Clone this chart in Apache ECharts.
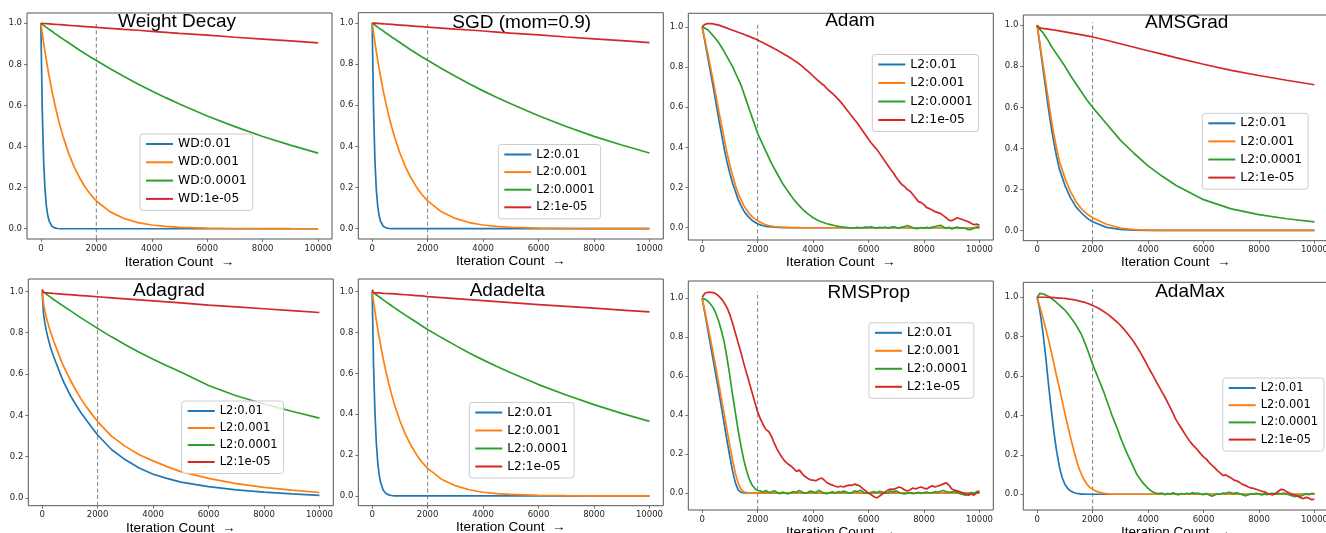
<!DOCTYPE html>
<html>
<head>
<meta charset="utf-8">
<script src="https://cdn.jsdelivr.net/npm/echarts@6/dist/echarts.min.js"></script>
<style>
html,body{margin:0;padding:0;background:#fff;}
#c{width:1326px;height:533px;}
</style>
</head>
<body>
<div id="c"></div>
<script>
// ---------------- data ----------------
const titles = ['Weight Decay','SGD (mom=0.9)','Adam','AMSGrad','Adagrad','Adadelta','RMSProp','AdaMax'];
const wdNames = ['WD:0.01','WD:0.001','WD:0.0001','WD:1e-05'];
const l2Names = ['L2:0.01','L2:0.001','L2:0.0001','L2:1e-05'];
const xTicks = [0,2000,4000,6000,8000,10000];
const yTicks = [0,0.2,0.4,0.6,0.8,1.0];
const xAxisTitle = 'Iteration Count  \u2192';
const markerX = 2000;
const vlineTop = [1.0,1.0,1.016,1.016,1.013,1.0,1.034,1.04];
const yMin = [-0.05,-0.05,-0.061,-0.05,-0.037,-0.048,-0.088,-0.08];
const yMax = [1.05,1.05,1.067,1.05,1.06,1.062,1.088,1.076];

// sparse x grid (smooth curves)
const xA = [0,50,100,150,200,250,300,400,500,600,700,800,1000,1200,1400,1600,1800,2000,2500,3000,3500,4000,4500,5000,6000,7000,8000,9000,10000];
// dense x grid (noisy curves)
const xB = [0,100,200,300,400,500,600,700,800,900,
 1000,1100,1200,1300,1400,1500,1600,1700,1800,1900,
 2000,2100,2200,2300,2400,2500,2600,2700,2800,2900,
 3000,3100,3200,3300,3400,3500,3600,3700,3800,3900,
 4000,4100,4200,4300,4400,4500,4600,4700,4800,4900,
 5000,5100,5200,5300,5400,5500,5600,5700,5800,5900,
 6000,6100,6200,6300,6400,6500,6600,6700,6800,6900,
 7000,7100,7200,7300,7400,7500,7600,7700,7800,7900,
 8000,8100,8200,8300,8400,8500,8600,8700,8800,8900,
 9000,9100,9200,9300,9400,9500,9600,9700,9800,9900,10000];

// Weight Decay (xA)
const wd_b = [1.0,0.58,0.33,0.19,0.11,0.064,0.037,0.012,0.004,0.001,0,0,0,0,0,0,0,0,0,0,0,0,0,0,0,0,0,0,0];
const wd_o = [1.0,0.951,0.905,0.861,0.819,0.779,0.741,0.67,0.607,0.549,0.497,0.449,0.368,0.301,0.247,0.202,0.165,0.135,0.082,0.05,0.03,0.018,0.011,0.007,0.0025,0.001,0.0003,0.0001,0];
const wd_g = [1.0,0.995,0.99,0.985,0.98,0.975,0.97,0.961,0.951,0.942,0.932,0.923,0.905,0.887,0.869,0.852,0.835,0.819,0.779,0.741,0.705,0.67,0.638,0.607,0.549,0.497,0.449,0.407,0.368];
const wd_r = [1.0,1.0,0.999,0.9985,0.998,0.9975,0.997,0.996,0.995,0.994,0.993,0.992,0.99,0.988,0.986,0.984,0.982,0.98,0.975,0.97,0.966,0.961,0.956,0.951,0.942,0.932,0.923,0.914,0.905];

// SGD (xA)
const sgd_b = [1.0,0.58,0.33,0.19,0.11,0.064,0.037,0.012,0.004,0.001,0,0,0,0,0,0,0,0,0,0,0,0,0,0,0,0,0,0,0];
const sgd_o = [1.0,0.951,0.905,0.861,0.819,0.779,0.741,0.67,0.607,0.549,0.497,0.449,0.368,0.301,0.247,0.202,0.165,0.135,0.082,0.05,0.03,0.018,0.011,0.007,0.0025,0.001,0.0003,0.0001,0];
const sgd_g = [1.0,0.995,0.99,0.985,0.98,0.975,0.97,0.961,0.951,0.942,0.932,0.923,0.905,0.887,0.869,0.852,0.835,0.819,0.779,0.741,0.705,0.67,0.638,0.607,0.549,0.497,0.449,0.407,0.368];
const sgd_r = [1.0,1.0,0.999,0.9985,0.998,0.9975,0.997,0.996,0.995,0.994,0.993,0.992,0.99,0.988,0.986,0.984,0.982,0.98,0.975,0.97,0.966,0.961,0.956,0.951,0.942,0.932,0.923,0.914,0.905];

// Adam (xB)
const adam_b = [1.0,0.925,0.85,0.775,0.7,0.62,0.54,0.465,0.39,0.325,
 0.27,0.22,0.18,0.14,0.11,0.085,0.065,0.05,0.037,0.027,
 0.02,0.014,0.01,0.007,0.005,0.004,0.003,0.002,0.0015,0.001,
 0.001,0,0,0,0,0,0,0,0,0, 0,0,0,0,0,0,0,0,0,0, 0,0,0,0,0,0,0,0,0,0,
 0,0,0,0,0,0,0,0,0,0, 0,0,0,0,0,0,0,0,0,0, 0,0,0,0,0,0,0,0,0,0,
 0,0,0,0,0,0,0,0,0,0, 0];
const adam_o = [1.0,0.935,0.87,0.8,0.73,0.655,0.58,0.51,0.44,0.37,
 0.31,0.26,0.21,0.17,0.14,0.11,0.09,0.07,0.055,0.044,
 0.035,0.027,0.02,0.015,0.011,0.008,0.006,0.0045,0.0035,0.0025,
 0.002,0.0015,0.001,0.001,0.0005,0.0005,0,0,0,0, 0,0,0,0,0,0,0,0,0,0,
 0,0,0,0,0,0,0,0,0,0, 0,0,0,0,0,0,0,0,0,0, 0,0,0,0,0,0,0,0,0,0,
 0,0,0,0,0,0,0,0,0,0, 0,0,0,0,0,0,0,0,0,0, 0];
const adam_g = [1.0,0.993,0.985,0.97,0.955,0.938,0.92,0.898,0.875,0.85,
 0.825,0.8,0.77,0.74,0.71,0.67,0.63,0.59,0.55,0.51,
 0.47,0.44,0.41,0.38,0.35,0.32,0.295,0.27,0.245,0.22,
 0.2,0.18,0.16,0.142,0.125,0.11,0.095,0.082,0.07,0.06,
 0.05,0.042,0.035,0.03,0.025,0.02,0.017,0.013,0.01,0.007,
 0.005,0.003,0.002,0.0,-0.002,0.0,0.002,-0.001,0.001,0.003,
 0.002,0.004,0.001,-0.002,0.002,0.0,0.003,-0.001,0.002,0.004,
 0.001,-0.002,0.003,0.006,0.011,0.006,0.0,-0.004,-0.003,0.001,
 -0.002,0.002,-0.002,0.003,0.006,0.01,0.012,0.004,-0.003,0.002,
 -0.006,0.0,0.003,-0.002,0.0,-0.004,-0.01,-0.008,-0.002,0.004,
 0.003];
const adam_r = [1.0,1.012,1.016,1.016,1.014,1.011,1.008,1.003,0.998,0.993,
 0.988,0.983,0.978,0.973,0.968,0.963,0.957,0.952,0.946,0.94,
 0.934,0.927,0.92,0.913,0.906,0.899,0.891,0.884,0.876,0.868,
 0.86,0.852,0.843,0.834,0.825,0.815,0.804,0.792,0.78,0.768,
 0.755,0.742,0.73,0.718,0.708,0.692,0.68,0.668,0.655,0.64,
 0.625,0.608,0.59,0.572,0.555,0.537,0.52,0.5,0.48,0.46,
 0.44,0.422,0.405,0.39,0.37,0.35,0.33,0.31,0.29,0.272,
 0.25,0.232,0.215,0.205,0.19,0.182,0.165,0.148,0.13,0.125,
 0.115,0.1,0.095,0.088,0.08,0.075,0.07,0.06,0.05,0.038,
 0.035,0.042,0.05,0.045,0.04,0.035,0.03,0.022,0.015,0.018,
 0.012];

// AMSGrad (xA)
const ams_b = [1.0,0.95,0.9,0.85,0.8,0.75,0.7,0.6,0.51,0.43,0.36,0.3,0.22,0.16,0.115,0.085,0.06,0.042,0.015,0.005,0.0015,0.0005,0,0,0,0,0,0,0];
const ams_o = [1.0,0.955,0.91,0.865,0.82,0.775,0.73,0.64,0.55,0.47,0.4,0.34,0.255,0.19,0.14,0.105,0.08,0.062,0.03,0.012,0.004,0.0015,0.0005,0,0,0,0,0,0];
const ams_g = [1.0,0.99,0.98,0.972,0.965,0.955,0.945,0.925,0.9,0.88,0.86,0.84,0.8,0.755,0.715,0.675,0.635,0.6,0.52,0.44,0.375,0.315,0.265,0.22,0.15,0.105,0.077,0.057,0.042];
const ams_r = [1.0,0.99,0.987,0.986,0.985,0.984,0.983,0.981,0.979,0.977,0.975,0.973,0.968,0.963,0.958,0.953,0.948,0.943,0.927,0.91,0.893,0.876,0.859,0.842,0.81,0.78,0.755,0.732,0.71];

// Adagrad (xA)
const adag_b = [1.0,0.89,0.845,0.81,0.78,0.755,0.73,0.69,0.655,0.62,0.585,0.555,0.5,0.455,0.413,0.376,0.34,0.305,0.235,0.185,0.145,0.115,0.095,0.077,0.055,0.04,0.029,0.02,0.013];
const adag_o = [1.0,0.94,0.905,0.875,0.85,0.825,0.805,0.765,0.73,0.695,0.66,0.63,0.575,0.525,0.48,0.44,0.405,0.37,0.3,0.25,0.21,0.18,0.152,0.128,0.095,0.07,0.052,0.038,0.027];
const adag_g = [1.0,0.997,0.993,0.987,0.982,0.977,0.972,0.962,0.953,0.944,0.935,0.926,0.908,0.89,0.872,0.855,0.838,0.821,0.78,0.742,0.706,0.672,0.64,0.61,0.545,0.495,0.455,0.42,0.387];
const adag_r = [1.01,0.994,0.993,0.993,0.992,0.992,0.991,0.99,0.989,0.988,0.987,0.986,0.984,0.982,0.98,0.978,0.976,0.974,0.969,0.964,0.959,0.954,0.949,0.944,0.934,0.925,0.916,0.907,0.898];

// Adadelta (xA)
const adad_b = [1.0,0.64,0.41,0.26,0.165,0.105,0.068,0.028,0.012,0.005,0.002,0.0005,0,0,0,0,0,0,0,0,0,0,0,0,0,0,0,0,0];
const adad_o = [1.0,0.951,0.905,0.861,0.819,0.779,0.741,0.67,0.607,0.549,0.497,0.449,0.368,0.301,0.247,0.202,0.165,0.135,0.082,0.05,0.03,0.018,0.011,0.007,0.0025,0.001,0.0003,0.0001,0];
const adad_g = [1.0,0.995,0.99,0.985,0.98,0.975,0.97,0.96,0.95,0.941,0.931,0.922,0.903,0.885,0.867,0.85,0.832,0.815,0.775,0.737,0.7,0.666,0.634,0.603,0.545,0.494,0.447,0.404,0.365];
const adad_r = [1.01,0.995,0.995,0.994,0.994,0.994,0.993,0.992,0.991,0.99,0.99,0.989,0.987,0.985,0.983,0.981,0.979,0.976,0.971,0.966,0.961,0.956,0.951,0.946,0.937,0.928,0.919,0.91,0.901];

// RMSProp (xB)
const rms_b = [1.0,0.92,0.84,0.76,0.68,0.6,0.52,0.435,0.35,0.265,
 0.185,0.11,0.05,0.015,0.003,0,0,0,0,0,
 0,0,0,0,0,0,0,0,0,0, 0,0,0,0,0,0,0,0,0,0, 0,0,0,0,0,0,0,0,0,0,
 0,0,0,0,0,0,0,0,0,0, 0,0,0,0,0,0,0,0,0,0, 0,0,0,0,0,0,0,0,0,0,
 0,0,0,0,0,0,0,0,0,0, 0,0,0,0,0,0,0,0,0,0, 0];
const rms_o = [1.0,0.93,0.86,0.79,0.715,0.64,0.56,0.48,0.4,0.32,
 0.24,0.165,0.1,0.05,0.018,0.005,0.001,0,0,0,
 0,0,0,0,0,0,0,0,0,0, 0,0,0,0,0,0,0,0,0,0, 0,0,0,0,0,0,0,0,0,0,
 0,0,0,0,0,0,0,0,0,0, 0,0,0,0,0,0,0,0,0,0, 0,0,0,0,0,0,0,0,0,0,
 0,0,0,0,0,0,0,0,0,0, 0,0,0,0,0,0,0,0,0,0, 0];
const rms_g = [1.0,0.995,0.985,0.97,0.95,0.92,0.88,0.83,0.77,0.69,
 0.6,0.5,0.41,0.32,0.24,0.17,0.115,0.07,0.04,0.022,
 0.012,0.01,0.004,0.012,0.002,0.006,0.011,0.003,-0.004,0.004,
 -0.001,-0.005,0.002,0.007,0.003,0.012,0.005,-0.002,0.002,0.009,
 0.005,0.001,0.013,0.006,-0.001,-0.004,0.001,0.005,-0.001,0.006,
 0.003,0.009,0.004,-0.002,0.001,0.011,0.006,0.013,0.004,-0.001,
 -0.003,0.003,0.006,0.001,0.008,0.004,-0.002,0.002,0.009,0.005,
 0.01,0.003,-0.003,-0.006,-0.002,0.001,-0.004,-0.002,0.003,-0.003,
 0.001,0.004,-0.002,0.002,0.006,0.003,0.008,0.012,0.007,0.003,
 0.005,0.009,0.002,-0.004,-0.008,-0.012,-0.006,0.002,-0.004,0.006,
 0.009];
const rms_r = [1.005,1.025,1.03,1.03,1.028,1.022,1.01,0.995,0.975,0.95,
 0.915,0.87,0.82,0.77,0.72,0.665,0.615,0.565,0.515,0.465,
 0.415,0.38,0.35,0.325,0.315,0.29,0.255,0.225,0.2,0.178,
 0.16,0.148,0.138,0.125,0.11,0.118,0.1,0.085,0.075,0.067,
 0.065,0.062,0.07,0.076,0.066,0.052,0.045,0.04,0.034,0.03,
 0.034,0.03,0.036,0.04,0.038,0.045,0.04,0.034,0.02,0.01,
 0.0,-0.01,-0.02,-0.026,-0.016,-0.006,0.005,0.014,0.02,0.018,
 0.024,0.03,0.025,0.015,0.01,0.016,0.025,0.02,0.026,0.03,
 0.024,0.02,0.03,0.036,0.03,0.035,0.04,0.046,0.052,0.04,
 0.02,0.015,0.01,0.005,0.0,-0.006,-0.012,-0.006,-0.012,0.0,
 0.006];

// AdaMax (xB)
const amax_b = [1.0,0.93,0.83,0.71,0.57,0.44,0.32,0.22,0.14,0.085,
 0.05,0.03,0.017,0.01,0.005,0.003,0.001,0.0005,0,0,
 0,0,0,0,0,0,0,0,0,0, 0,0,0,0,0,0,0,0,0,0, 0,0,0,0,0,0,0,0,0,0,
 0,0,0,0,0,0,0,0,0,0, 0,0,0,0,0,0,0,0,0,0, 0,0,0,0,0,0,0,0,0,0,
 0,0,0,0,0,0,0,0,0,0, 0,0,0,0,0,0,0,0,0,0, 0];
const amax_o = [1.0,0.95,0.9,0.845,0.79,0.73,0.665,0.6,0.54,0.475,
 0.41,0.35,0.29,0.235,0.18,0.135,0.1,0.072,0.05,0.035,
 0.025,0.017,0.012,0.008,0.005,0.003,0.001,0.0005,0,0,
 0,0,0,0,0,0,0,0,0,0, 0,0,0,0,0,0,0,0,0,0, 0,0,0,0,0,0,0,0,0,0,
 0,0,0,0,0,0,0,0,0,0, 0,0,0,0,0,0,0,0,0,0, 0,0,0,0,0,0,0,0,0,0,
 0,0,0,0,0,0,0,0,0,0, 0];
const amax_g = [1.0,1.02,1.018,1.012,1.005,0.996,0.985,0.973,0.96,0.948,
 0.935,0.918,0.9,0.88,0.86,0.835,0.81,0.775,0.74,0.7,
 0.66,0.625,0.59,0.555,0.52,0.48,0.44,0.4,0.365,0.33,
 0.29,0.255,0.22,0.19,0.16,0.13,0.1,0.08,0.06,0.045,
 0.03,0.018,0.01,0.004,0.003,0.006,-0.002,0.004,0.001,0.007,
 0.002,-0.003,0.004,0.0,0.005,0.002,0.008,0.003,0.006,0.0,
 -0.002,0.004,-0.004,-0.01,-0.004,0.002,0.0,0.006,0.004,0.01,
 0.007,0.003,0.008,0.002,-0.002,-0.008,-0.004,0.002,0.0,0.005,
 0.001,-0.003,0.002,-0.002,0.003,0.005,0.0,0.004,0.002,0.006,
 0.001,-0.004,-0.008,-0.012,-0.006,-0.01,-0.004,0.002,-0.002,0.004,
 0.002];
const amax_r = [1.0,1.0,1.0,1.0,0.999,0.999,0.998,0.997,0.996,0.995,
 0.994,0.992,0.99,0.988,0.985,0.982,0.978,0.975,0.97,0.965,
 0.958,0.952,0.945,0.937,0.928,0.918,0.908,0.896,0.884,0.872,
 0.858,0.842,0.826,0.808,0.79,0.77,0.748,0.725,0.7,0.675,
 0.648,0.622,0.597,0.57,0.545,0.52,0.495,0.468,0.44,0.41,
 0.38,0.357,0.335,0.312,0.29,0.27,0.252,0.238,0.222,0.205,
 0.19,0.178,0.162,0.148,0.135,0.12,0.108,0.095,0.098,0.09,
 0.082,0.072,0.068,0.06,0.05,0.045,0.038,0.032,0.03,0.025,
 0.02,0.015,0.012,0.005,0.0,-0.003,0.005,0.015,0.025,0.022,
 0.012,0.006,0.0,-0.005,-0.01,-0.018,-0.022,-0.016,-0.02,-0.028,
 -0.025];

// ---------------- assembly ----------------
const colors = ['#1f77b4','#ff7f0e','#2ca02c','#d62728'];
const panels = [
  {names: wdNames, xs: xA, ys: [wd_b, wd_o, wd_g, wd_r]},
  {names: l2Names, xs: xA, ys: [sgd_b, sgd_o, sgd_g, sgd_r]},
  {names: l2Names, xs: xB, ys: [adam_b, adam_o, adam_g, adam_r]},
  {names: l2Names, xs: xA, ys: [ams_b, ams_o, ams_g, ams_r]},
  {names: l2Names, xs: xA, ys: [adag_b, adag_o, adag_g, adag_r]},
  {names: l2Names, xs: xA, ys: [adad_b, adad_o, adad_g, adad_r]},
  {names: l2Names, xs: xB, ys: [rms_b, rms_o, rms_g, rms_r]},
  {names: l2Names, xs: xB, ys: [amax_b, amax_o, amax_g, amax_r]}
];
// layout: grid [left, top, width, height], title centre, legend [left, top, fontSize, rowStep], x-name gap
const layout = [
  {g:[27,13,305,226],        t:[177,21.5],   lg:[140,134,12.3,18.3],    ng:16},
  {g:[358.3,12.7,305,226.3], t:[521.7,22.5], lg:[498.3,144.5,11.6,17.6],ng:14},
  {g:[688.3,13.3,305,226.7], t:[850,21.2],   lg:[872.3,54.5,12.4,18.5], ng:12},
  {g:[1023.3,15,305,225.7],  t:[1186.7,23],  lg:[1202.3,113.3,12.3,18.1],ng:14},
  {g:[28.3,279,305,226.7],   t:[169,291],    lg:[181.7,401,11.5,17],    ng:15.7},
  {g:[358.3,279,305,226.7],  t:[507.2,291],  lg:[469.3,402.5,12.1,18],  ng:14},
  {g:[688.3,281,305,229],    t:[868.8,292.3],lg:[869,322.8,12.1,18],    ng:10.5},
  {g:[1023.3,282.3,305,227.7],t:[1190,292],  lg:[1222.7,378,11.4,17.2], ng:14.8}
];

const tickFont = {fontFamily:'DejaVu Sans', fontSize:8.5, color:'#262626'};
const grids = [], xAxes = [], yAxes = [], legends = [], series = [], graphics = [];

panels.forEach((p, k) => {
  const L = layout[k];
  grids.push({left:L.g[0], top:L.g[1], width:L.g[2], height:L.g[3], show:true,
    borderColor:'#555', borderWidth:1, backgroundColor:'rgba(0,0,0,0)',
    containLabel:false, outerBoundsMode:'none'});
  xAxes.push({
    gridIndex:k, type:'value', min:-500, max:10500, position:'bottom',
    axisLine:{show:false, onZero:false},
    axisTick:{show:true, length:3, customValues:xTicks, lineStyle:{color:'#555', width:0.8}},
    axisLabel:Object.assign({customValues:xTicks, margin:5, formatter:v => String(v)}, tickFont),
    splitLine:{show:false},
    name:xAxisTitle, nameLocation:'middle', nameGap:L.ng,
    nameTextStyle:{fontFamily:'Liberation Sans', fontSize:13.5, color:'#000'}
  });
  yAxes.push({
    gridIndex:k, type:'value', min:yMin[k], max:yMax[k], position:'left',
    axisLine:{show:false, onZero:false},
    axisTick:{show:true, length:3, customValues:yTicks, lineStyle:{color:'#555', width:0.8}},
    axisLabel:Object.assign({customValues:yTicks, margin:5, formatter:v => v.toFixed(1)}, tickFont),
    splitLine:{show:false}
  });
  // dashed marker at x = 2000
  series.push({
    type:'line', name:'marker'+k, xAxisIndex:k, yAxisIndex:k,
    data:[[markerX, yMin[k]],[markerX, vlineTop[k]]],
    symbol:'none', silent:true, animation:false,
    lineStyle:{color:'#7f7f7f', width:1, type:[4,2.6]}
  });
  p.ys.forEach((ys, j) => {
    series.push({
      type:'line', name:p.names[j], xAxisIndex:k, yAxisIndex:k,
      data:p.xs.map((x, i) => [x, ys[i]]),
      symbol:'none', showSymbol:false, silent:true, animation:false, smooth:false,
      lineStyle:{color:colors[j], width:1.7},
      itemStyle:{color:colors[j]}
    });
  });
  legends.push({
    orient:'vertical', left:L.lg[0], top:L.lg[1], data:p.names, selectedMode:false,
    itemWidth:27, itemHeight:12, itemGap:L.lg[3]-13,
    padding:[3.5,6,5,5], borderColor:'#cccccc', borderWidth:1, borderRadius:3,
    backgroundColor:'rgba(255,255,255,0.8)',
    itemStyle:{opacity:0},
    lineStyle:{width:2},
    textStyle:{fontFamily:'DejaVu Sans', fontSize:L.lg[2], color:'#000', lineHeight:13}
  });
  graphics.push({
    type:'text', x:L.t[0], y:L.t[1], z:100, silent:true,
    style:{text:titles[k], font:'19px "Liberation Sans"', fill:'#000',
      align:'center', verticalAlign:'middle', textAlign:'center', textVerticalAlign:'middle'}
  });
});

const chart = echarts.init(document.getElementById('c'), null, {renderer:'canvas'});
chart.setOption({
  animation:false,
  backgroundColor:'#ffffff',
  grid:grids, xAxis:xAxes, yAxis:yAxes, legend:legends, series:series, graphic:graphics
});
</script>
</body>
</html>
